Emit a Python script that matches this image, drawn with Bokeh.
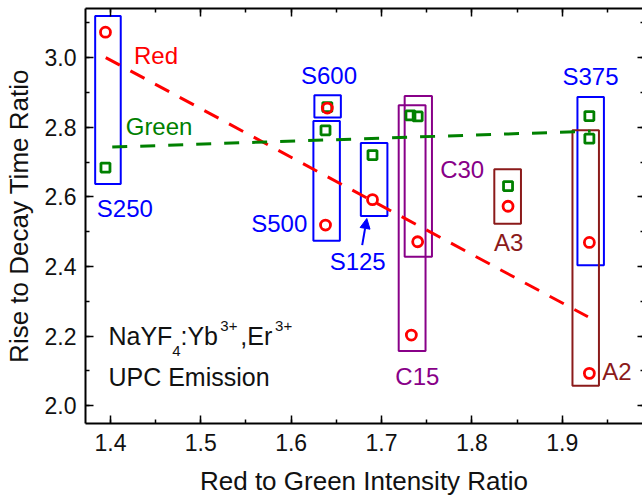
from bokeh.plotting import figure
from bokeh.models import (ColumnDataSource, Range1d, LinearAxis, SingleIntervalTicker,
                          PrintfTickFormatter, Arrow, NormalHead)
from bokeh.core.properties import value
from bokeh.embed import file_html
from bokeh.resources import INLINE

# ---------------- data ----------------
samples = ["S250", "S600", "S500", "S125", "C15", "C30", "A3", "S375", "A2"]
rg_ratio = [1.3945, 1.640, 1.638, 1.690, 1.733, 1.740, 1.840, 1.930, 1.930]
red_ratio = [3.073, 2.855, 2.519, 2.592, 2.203, 2.471, 2.573, 2.469, 2.093]
green_ratio = [2.684, 2.858, 2.791, 2.720, 2.834, 2.831, 2.631, 2.832, 2.767]
green_x = [1.3945, 1.640, 1.638, 1.690, 1.732, 1.740, 1.840, 1.930, 1.930]

# grouping boxes (sample envelopes)
box_left = [1.3831, 1.6257, 1.6246, 1.6771, 1.7190, 1.7256, 1.8248, 1.9168, 1.9113]
box_right = [1.4114, 1.6550, 1.6539, 1.7065, 1.7487, 1.7558, 1.8543, 1.9461, 1.9406]
box_bottom = [2.6372, 2.8278, 2.4736, 2.5453, 2.1570, 2.4277, 2.5224, 2.4038, 2.0574]
box_top = [3.1194, 2.8918, 2.8180, 2.7549, 2.8631, 2.8898, 2.6794, 2.8869, 2.7913]
box_group = ["S", "S", "S", "S", "C", "C", "A", "S", "A"]

# sample labels
label_text = ["S250", "S600", "S500", "S125", "C15", "C30", "A3", "S375", "A2"]
label_x = [1.3849, 1.6109, 1.5558, 1.6426, 1.7153, 1.7649, 1.8245, 1.9002, 1.9443]
label_y = [2.5666, 2.9492, 2.5235, 2.4133, 2.0852, 2.6785, 2.4679, 2.9463, 2.0976]
label_group = ["S", "S", "S", "S", "C", "C", "A", "S", "A"]

# linear fits
red_fit_x = [1.3948, 1.9284]
red_fit_y = [3.000, 2.2555]
green_fit_x = [1.402, 1.9314]
green_fit_y = [2.743, 2.7885]

# arrow S125 label -> box
arrow_start = (1.6786, 2.4613)
arrow_end = (1.6837, 2.5379)

group_color = {"S": "#0000ff", "C": "#880088", "A": "#8b1a1a"}
FONT = "Liberation Sans"

# ---------------- figure ----------------
p = figure(width=642, height=504, output_backend="svg", toolbar_location=None,
           x_range=Range1d(1.3724, 1.9888), y_range=Range1d(1.949, 3.141),
           min_border_left=83, min_border_right=0, min_border_top=8,
           min_border_bottom=81)
p.xgrid.visible = False
p.ygrid.visible = False
p.outline_line_color = None
p.background_fill_color = "white"
p.border_fill_color = "white"

xt = SingleIntervalTicker(interval=0.1, num_minor_ticks=2)
yt = SingleIntervalTicker(interval=0.2, num_minor_ticks=2)


def style_axis(ax, labels=True):
    ax.axis_line_width = 2
    ax.axis_line_color = "black"
    ax.major_tick_in = 8
    ax.major_tick_out = 0
    ax.minor_tick_in = 4
    ax.minor_tick_out = 0
    ax.major_tick_line_width = 1.5
    ax.minor_tick_line_width = 1.5
    ax.major_tick_line_color = "black"
    ax.minor_tick_line_color = "black"
    ax.major_label_text_font = FONT
    if labels:
        ax.major_label_text_font_size = "23px"
        ax.major_label_text_color = "#111111"
        ax.axis_label_text_font = FONT
        ax.axis_label_text_font_size = "26px"
        ax.axis_label_text_font_style = "normal"
        ax.axis_label_text_color = "#111111"
    else:
        ax.major_label_text_font_size = "0px"
        ax.major_label_text_color = None
        ax.major_label_standoff = 0


p.xaxis.ticker = xt
p.yaxis.ticker = yt
p.xaxis.formatter = PrintfTickFormatter(format="%.1f")
p.yaxis.formatter = PrintfTickFormatter(format="%.1f")
style_axis(p.xaxis[0])
style_axis(p.yaxis[0])
p.xaxis.axis_label = "Red to Green Intensity Ratio"
p.yaxis.axis_label = "Rise to Decay Time Ratio"
p.xaxis.major_label_standoff = 10
p.yaxis.major_label_standoff = 9
p.xaxis.axis_label_standoff = 12
p.yaxis.axis_label_standoff = 8

top = LinearAxis(ticker=xt)
style_axis(top, labels=False)
p.add_layout(top, "above")
right = LinearAxis(ticker=yt)
style_axis(right, labels=False)
right.axis_line_color = None
right.major_tick_in = 5
right.minor_tick_in = 2
p.add_layout(right, "right")

# boxes
box_src = ColumnDataSource(dict(left=box_left, right=box_right, bottom=box_bottom, top=box_top,
                                color=[group_color[g] for g in box_group]))
p.quad(left="left", right="right", bottom="bottom", top="top", source=box_src,
       fill_color=None, line_color="color", line_width=2)

# fit lines
p.line(red_fit_x, red_fit_y, line_color="#ff0000", line_width=3, line_dash="16 12")
p.line(green_fit_x, green_fit_y, line_color="#008000", line_width=3, line_dash="15 13")

# markers
p.scatter(green_x, green_ratio, marker="square", size=9, fill_color=None,
          line_color="#008000", line_width=2.8)
p.scatter(rg_ratio, red_ratio, marker="circle", size=10, fill_color=None,
          line_color="#ff0000", line_width=2.8)

# sample labels
lab_src = ColumnDataSource(dict(x=label_x, y=label_y, text=label_text,
                                color=[group_color[g] for g in label_group]))
p.text(x="x", y="y", text="text", source=lab_src, text_color="color",
       text_font=value(FONT), text_font_size="24px", text_align="left",
       text_baseline="middle")

# fit labels
p.text(x=[1.4261], y=[3.0066], text=["Red"], text_color="#ff0000",
       text_font=value(FONT), text_font_size="24px", text_baseline="middle")
p.text(x=[1.4169], y=[2.8028], text=["Green"], text_color="#008000",
       text_font=value(FONT), text_font_size="24px", text_baseline="middle")

# arrow
p.add_layout(Arrow(end=NormalHead(size=10, fill_color="#0000ff", line_color="#0000ff"),
                   x_start=arrow_start[0], y_start=arrow_start[1],
                   x_end=arrow_end[0], y_end=arrow_end[1],
                   line_color="#0000ff", line_width=2))

# composition annotation with sub/superscripts
main_parts = ["NaYF", ":Yb", ",Er"]
main_x = [1.3978, 1.4775, 1.5437]
main_y = [2.2000, 2.2000, 2.2000]
sub_parts = ["4"]
sub_x = [1.4684]
sub_y = [2.157]
sup_parts = ["3+", "3+"]
sup_x = [1.5216, 1.5822]
sup_y = [2.2288, 2.2288]
p.text(x=main_x, y=main_y, text=main_parts, text_color="#111111", text_font=value(FONT),
       text_font_size="25px", text_baseline="middle")
p.text(x=sub_x, y=sub_y, text=sub_parts, text_color="#111111", text_font=value(FONT),
       text_font_size="15px", text_baseline="middle")
p.text(x=sup_x, y=sup_y, text=sup_parts, text_color="#111111", text_font=value(FONT),
       text_font_size="15px", text_baseline="middle")
p.text(x=[1.3978], y=[2.0815], text=["UPC Emission"], text_color="#111111",
       text_font=value(FONT), text_font_size="25px", text_baseline="middle")

open("out.html", "w").write(file_html(p, INLINE))
